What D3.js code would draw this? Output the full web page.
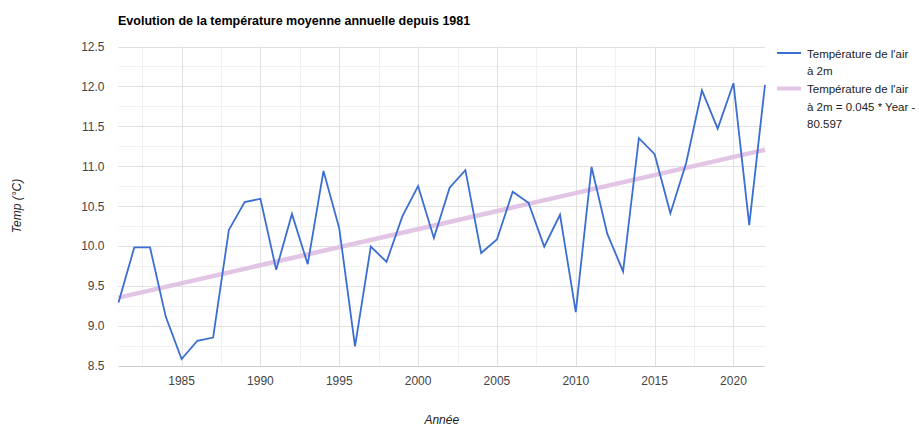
<!DOCTYPE html>
<html>
<head>
<meta charset="utf-8">
<script src="https://cdn.jsdelivr.net/npm/d3@7"></script>
<style>
  body { margin: 0; background: #fff; }
  svg { font-family: "Liberation Sans", Arial, sans-serif; }
</style>
</head>
<body>
<div id="chart"></div>
<script>
// Data
const years = d3.range(1981, 2023);
const temps = [
  9.29, 9.98, 9.98, 9.11, 8.58, 8.81, 8.85, 10.20, 10.55, 10.59,
  9.70, 10.40, 9.77, 10.94, 10.22, 8.74, 9.99, 9.80, 10.37, 10.75,
  10.10, 10.73, 10.95, 9.91, 10.08, 10.68, 10.54, 9.99, 10.39, 9.17,
  10.99, 10.15, 9.68, 11.35, 11.15, 10.41, 11.04, 11.95, 11.47, 12.04,
  10.26, 12.02
];
const yTicks = [8.5, 9.0, 9.5, 10.0, 10.5, 11.0, 11.5, 12.0, 12.5];
const xTicks = [1985, 1990, 1995, 2000, 2005, 2010, 2015, 2020];
const legendLabels = [
  ["Température de l'air", "à 2m"],
  ["Température de l'air", "à 2m = 0.045 * Year -", "80.597"]
];

const width = 919, height = 428;
const margin = { left: 118.5, right: 154, top: 46.5, bottom: 62.5 };

const svg = d3.select("#chart").append("svg")
    .attr("width", width)
    .attr("height", height);

const x = d3.scaleLinear()
    .domain([1981, 2022])
    .range([margin.left, width - margin.right]);

const y = d3.scaleLinear()
    .domain([8.5, 12.5])
    .range([height - margin.bottom, margin.top]);

// Minor gridlines
const minorY = d3.range(8.75, 12.5, 0.5);
svg.append("g").selectAll("line")
    .data(minorY).enter().append("line")
    .attr("x1", x(1981)).attr("x2", x(2022))
    .attr("y1", d => Math.round(y(d)) + 0.5).attr("y2", d => Math.round(y(d)) + 0.5)
    .style("stroke", "#f1f1f1");

const minorX = d3.range(1982.5, 2022, 5);
svg.append("g").selectAll("line")
    .data(minorX).enter().append("line")
    .attr("y1", y(8.5)).attr("y2", y(12.5))
    .attr("x1", d => Math.round(x(d)) + 0.5).attr("x2", d => Math.round(x(d)) + 0.5)
    .style("stroke", "#f1f1f1");

// Major gridlines
svg.append("g").selectAll("line")
    .data(yTicks).enter().append("line")
    .attr("x1", x(1981)).attr("x2", x(2022))
    .attr("y1", d => Math.round(y(d)) + 0.5).attr("y2", d => Math.round(y(d)) + 0.5)
    .style("stroke", d => d === 8.5 ? "#cccccc" : "#e0e0e0");

svg.append("g").selectAll("line")
    .data(xTicks).enter().append("line")
    .attr("y1", y(8.5)).attr("y2", y(12.5))
    .attr("x1", d => Math.round(x(d)) + 0.5).attr("x2", d => Math.round(x(d)) + 0.5)
    .style("stroke", "#e0e0e0");

// Axis tick labels
svg.append("g").selectAll("text")
    .data(yTicks).enter().append("text")
    .attr("x", margin.left - 14)
    .attr("y", d => y(d) + 4.5)
    .attr("text-anchor", "end")
    .style("font-size", "12px")
    .style("fill", "#444")
    .text(d3.format(".1f"));

svg.append("g").selectAll("text")
    .data(xTicks).enter().append("text")
    .attr("x", d => x(d))
    .attr("y", y(8.5) + 19)
    .attr("text-anchor", "middle")
    .style("font-size", "12px")
    .style("fill", "#444")
    .text(d => d);

// Trendline: least squares fit of the series
const mx = d3.mean(years), my = d3.mean(temps);
const slope = d3.sum(years, (d, i) => (d - mx) * (temps[i] - my)) /
              d3.sum(years, d => (d - mx) * (d - mx));
const intercept = my - slope * mx;

svg.append("line")
    .attr("x1", x(1981)).attr("y1", y(slope * 1981 + intercept))
    .attr("x2", x(2022)).attr("y2", y(slope * 2022 + intercept))
    .style("stroke", "#e2c4e4")
    .style("stroke-width", 4.5);

// Series line
const line = d3.line()
    .x((d, i) => x(years[i]))
    .y(d => y(d));

svg.append("path")
    .datum(temps)
    .attr("d", line)
    .style("fill", "none")
    .style("stroke", "#3a6ed3")
    .style("stroke-width", 1.8)
    .style("stroke-linejoin", "miter");

// Title
svg.append("text")
    .attr("x", 118)
    .attr("y", 25)
    .style("font-size", "12.5px")
    .style("font-weight", "bold")
    .style("fill", "#000")
    .text("Evolution de la température moyenne annuelle depuis 1981");

// Axis titles
svg.append("text")
    .attr("x", x(2001.5))
    .attr("y", 424)
    .attr("text-anchor", "middle")
    .style("font-size", "12px")
    .style("font-style", "italic")
    .style("fill", "#222")
    .text("Année");

svg.append("text")
    .attr("transform", `translate(21, ${y(10.5)}) rotate(-90)`)
    .attr("text-anchor", "middle")
    .style("font-size", "12px")
    .style("font-style", "italic")
    .style("fill", "#222")
    .text("Temp (°C)");

// Legend
const legend = svg.append("g").attr("transform", "translate(777, 0)");
const legendStyles = [
  { color: "#3a6ed3", width: 2, y: 53 },
  { color: "#e2c4e4", width: 4, y: 88.5 }
];
legendLabels.forEach((lines, i) => {
    const s = legendStyles[i];
    legend.append("line")
        .attr("x1", 0).attr("x2", 24)
        .attr("y1", s.y).attr("y2", s.y)
        .style("stroke", s.color)
        .style("stroke-width", s.width);
    legend.append("text")
        .attr("x", 30)
        .attr("y", s.y + 4.5)
        .style("font-size", "11.5px")
        .style("fill", "#222")
        .selectAll("tspan")
        .data(lines).enter().append("tspan")
        .attr("x", 30)
        .attr("dy", (d, j) => j === 0 ? 0 : 17.5)
        .text(d => d);
});
</script>
</body>
</html>
